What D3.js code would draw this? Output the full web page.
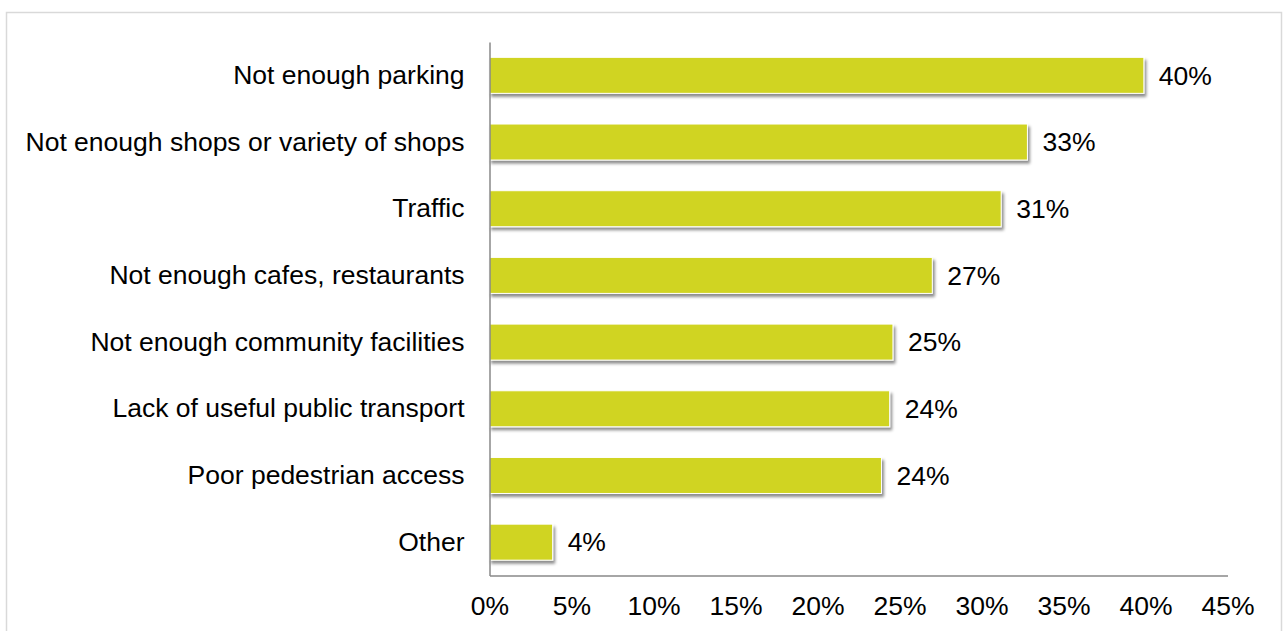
<!DOCTYPE html>
<html>
<head>
<meta charset="utf-8">
<script src="https://cdn.jsdelivr.net/npm/d3@7"></script>
<style>
  html, body { margin: 0; padding: 0; background: #fff; }
  svg { display: block; font-family: "Liberation Sans", Arial, sans-serif; }
</style>
</head>
<body>
<svg id="chart" width="1285" height="631"></svg>
<script>
// Reasons given for not visiting the town centre (% of respondents)
const categories = [
  "Not enough parking",
  "Not enough shops or variety of shops",
  "Traffic",
  "Not enough cafes, restaurants",
  "Not enough community facilities",
  "Lack of useful public transport",
  "Poor pedestrian access",
  "Other"
];
const values = [39.9, 32.8, 31.2, 27.0, 24.6, 24.4, 23.9, 3.85];
const tickValues = [0, 5, 10, 15, 20, 25, 30, 35, 40, 45];

const W = 1285, H = 631;
const FONT = 26.5;
const margin = { left: 489.5, right: W - 1227.5, top: 42, bottom: H - 575.5 };

const svg = d3.select("#chart");

// drop shadow under each bar
const defs = svg.append("defs");
const f = defs.append("filter").attr("id", "shadow")
  .attr("x", "-10%").attr("y", "-30%").attr("width", "130%").attr("height", "180%");
f.append("feDropShadow").attr("dx", 2).attr("dy", 3).attr("stdDeviation", 1.8)
  .attr("flood-color", "#000").attr("flood-opacity", 0.45);

// outer frame
svg.append("rect").attr("x", 6.5).attr("y", 12.5).attr("width", 1275).attr("height", 640)
  .attr("fill", "none").attr("stroke", "#d9d9d9").attr("stroke-width", 1.5);

const x = d3.scaleLinear().domain([0, 45]).range([margin.left, W - margin.right]);
const y = d3.scaleBand().domain(categories).range([margin.top, H - margin.bottom])
  .paddingInner(0.46).paddingOuter(0.23);

const data = categories.map((c, i) => ({ c, v: values[i] }));
const fmt = v => d3.format(".0f")(v) + "%";

// bars
svg.append("g").selectAll("rect").data(data).join("rect")
  .attr("x", x(0))
  .attr("y", d => y(d.c))
  .attr("width", d => x(d.v) - x(0))
  .attr("height", y.bandwidth())
  .attr("fill", "#d0d421")
  .attr("stroke", "#fff")
  .attr("stroke-width", 1)
  .attr("filter", "url(#shadow)");

// value labels
svg.append("g").selectAll("text").data(data).join("text")
  .attr("x", d => x(d.v) + 15)
  .attr("y", d => y(d.c) + y.bandwidth() / 2)
  .attr("dy", "0.35em")
  .attr("font-size", FONT)
  .attr("fill", "#000")
  .text(d => fmt(d.v));

// category axis
const yAxis = svg.append("g").attr("transform", `translate(${x(0)},0)`)
  .call(d3.axisLeft(y).tickSize(0).tickPadding(25));
yAxis.select(".domain").attr("stroke", "#898989").attr("stroke-width", 1.5);
yAxis.selectAll("text").attr("font-size", FONT).attr("fill", "#000")
  .attr("font-family", "Liberation Sans, Arial, sans-serif");

// value axis
const xAxis = svg.append("g").attr("transform", `translate(0,${H - margin.bottom})`)
  .call(d3.axisBottom(x).tickValues(tickValues).tickSize(0).tickPadding(21)
    .tickFormat(d => d + "%"));
xAxis.select(".domain").attr("stroke", "#898989").attr("stroke-width", 1.5);
xAxis.selectAll("text").attr("font-size", FONT).attr("fill", "#000")
  .attr("font-family", "Liberation Sans, Arial, sans-serif");
</script>
</body>
</html>
